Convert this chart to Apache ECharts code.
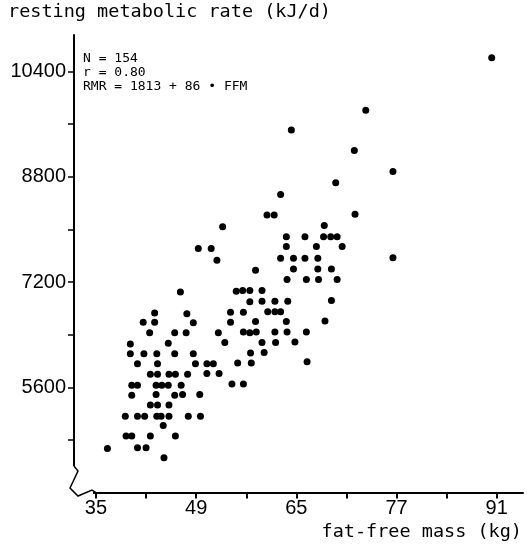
<!DOCTYPE html>
<html><head><meta charset="utf-8">
<script src="https://cdn.jsdelivr.net/npm/echarts@6/dist/echarts.min.js"></script>
<style>html,body{margin:0;padding:0;background:#fff}#c{width:528px;height:549px}</style>
</head><body><div id="c"></div>
<script>
// fat-free mass (kg)
const ffm = [51.9,46.8,54.6,43.2,47.7,53.8,41.6,43.2,48.6,53.8,42.5,46.0,47.6,52.1,39.8,45.1,53.0,39.8,41.7,43.5,46.0,48.6,40.8,43.6,48.9,50.5,51.4,54.8,42.6,43.6,45.2,46.1,47.8,50.5,52.2,40.0,40.8,43.4,44.2,45.1,46.9,54.0,40.0,43.4,46.0,47.1,49.5,42.6,43.6,45.2,39.1,40.8,41.8,43.5,44.1,45.2,47.9,49.6,44.4,39.2,40.0,42.6,46.1,36.6,40.8,42.0,44.5,
68.5,60.8,58.9,59.9,71.2,52.7,66.9,61.6,64.2,66.8,67.8,68.7,49.3,51.1,61.6,65.8,69.4,60.8,62.6,64.2,66.0,57.3,62.6,66.0,67.9,61.7,64.4,66.1,68.7,55.5,56.5,58.2,56.5,58.2,60.0,61.8,67.9,55.6,59.0,60.0,60.8,57.3,61.6,67.0,55.6,56.5,57.4,60.0,61.7,64.4,58.2,60.1,62.8,56.6,58.5,56.7,64.5,55.6,
90.3,72.7,62.3,71.1,76.5,76.5];
// resting metabolic rate (kJ/d)
const rmr = [7530,7050,7060,6730,6720,6740,6590,6590,6580,6590,6430,6430,6430,6430,6260,6270,6280,6110,6110,6110,6110,6110,5960,5960,5960,5960,5960,5970,5800,5800,5800,5800,5800,5810,5810,5630,5630,5630,5630,5630,5630,5650,5480,5490,5480,5490,5490,5330,5330,5330,5160,5160,5160,5160,5160,5160,5160,5160,5020,4860,4860,4860,4860,4670,4680,4680,4530,
8710,8530,8220,8220,8230,8040,8060,7890,7890,7890,7890,7890,7710,7710,7740,7740,7740,7560,7560,7560,7560,7380,7400,7400,7400,7240,7240,7240,7240,7070,7070,7070,6900,6910,6910,6910,6920,6740,6750,6750,6750,6600,6600,6610,6440,6430,6440,6440,6440,6440,6280,6280,6290,6120,6130,5970,5990,5650,
10610,9810,9510,9200,8880,7570];

const xTickValues = [35,42,49,56,63,70,77,84,91];
const xLabelValues = [35,49,63,77,91];
const xLabelTexts = ['35','49','65','77','91'];
const yTickValues = [4800,5600,6400,7200,8000,8800,9600,10400];
const yLabelValues = [5600,7200,8800,10400];
const yLabelTexts = ['5600','7200','8800','10400'];

const titleText = 'resting metabolic rate (kJ/d)';
const xNameText = 'fat-free mass (kg)';
const noteLines = ['N = 154', 'r = 0.80', 'RMR = 1813 + 86 \u2022 FFM'];

const pts = ffm.map((v, i) => [v, rmr[i]]);

const chart = echarts.init(document.getElementById('c'), null, {renderer: 'canvas'});
const labelFont = {fontFamily: '"Liberation Sans", Arial, sans-serif', fontSize: 20, color: '#000'};
const bigFont = '18.5px "DejaVu Sans Mono", monospace';
const smallFont = '13px "DejaVu Sans Mono", monospace';

chart.setOption({
  animation: false,
  backgroundColor: '#fff',
  grid: {left: 74, right: 5, top: 35, bottom: 56.4, containLabel: false},
  xAxis: {
    type: 'value', min: 31.93, max: 94.67,
    splitLine: {show: false},
    axisLine: {show: true, onZero: false, lineStyle: {color: '#000', width: 2}},
    axisTick: {show: true, length: 6, customValues: xTickValues, lineStyle: {color: '#000', width: 2}},
    axisLabel: {
      customValues: xLabelValues, margin: 6, ...labelFont,
      formatter: v => { const i = xLabelValues.indexOf(v); return i >= 0 ? xLabelTexts[i] : ''; }
    }
  },
  yAxis: {
    type: 'value', min: 4000, max: 10955,
    splitLine: {show: false},
    axisLine: {show: true, onZero: false, lineStyle: {color: '#000', width: 2}},
    axisTick: {show: true, length: 6, customValues: yTickValues, lineStyle: {color: '#000', width: 1.5}},
    axisLabel: {
      customValues: yLabelValues, margin: 8, ...labelFont,
      formatter: v => { const i = yLabelValues.indexOf(v); return i >= 0 ? yLabelTexts[i] : ''; }
    }
  },
  series: [{
    type: 'scatter', data: pts, symbol: 'circle', symbolSize: 7,
    itemStyle: {color: '#000', opacity: 1}, silent: true
  }],
  graphic: [
    {type: 'text', left: 8, top: 3, style: {text: titleText, font: bigFont, fill: '#000'}},
    {type: 'text', right: 6, top: 523, style: {text: xNameText, font: bigFont, fill: '#000'}},
    {type: 'text', left: 83, top: 52, style: {text: noteLines[0], font: smallFont, fill: '#000'}},
    {type: 'text', left: 83, top: 66, style: {text: noteLines[1], font: smallFont, fill: '#000'}},
    {type: 'text', left: 83, top: 80, style: {text: noteLines[2], font: smallFont, fill: '#000'}},
    {type: 'rect', shape: {x: 64, y: 466, width: 29, height: 31}, style: {fill: '#fff'}, z: 100},
    {type: 'polyline', shape: {points: [[74, 466], [78, 471], [70, 488], [78, 496], [92, 490], [96, 492.6]]},
      style: {stroke: '#000', lineWidth: 1.5, fill: null}, z: 101}
  ]
});
</script></body></html>
